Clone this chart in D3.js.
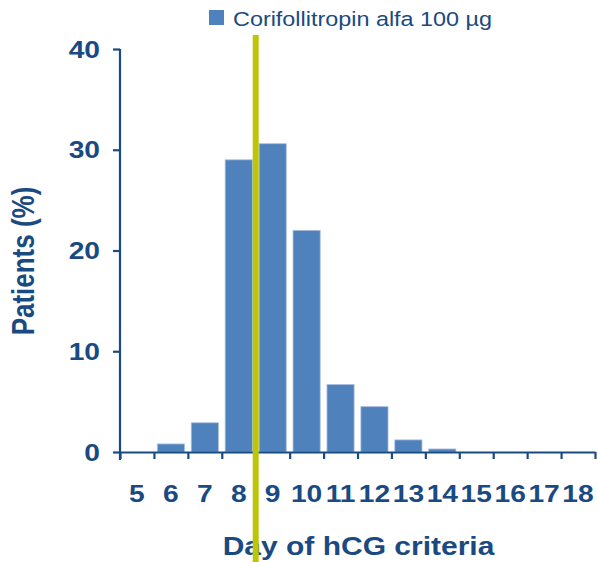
<!DOCTYPE html>
<html>
<head>
<meta charset="utf-8">
<script src="https://cdn.jsdelivr.net/npm/d3@7"></script>
<style>
  html, body { margin: 0; padding: 0; background: #fff; }
  svg { display: block; font-family: "Liberation Sans", Arial, sans-serif; }
</style>
</head>
<body>
<svg id="chart" width="598" height="562"></svg>
<script>
// Distribution of the day on which hCG criteria were reached
const days = ["5", "6", "7", "8", "9", "10", "11", "12", "13", "14", "15", "16", "17", "18"];
const patientsPct = [0, 0.8, 2.9, 29.0, 30.6, 22.0, 6.7, 4.5, 1.2, 0.3, 0, 0, 0, 0];
const yTicks = [0, 10, 20, 30, 40];
const seriesName = "Corifollitropin alfa 100 µg";
const markerDay = 8.5; // reference line between day 8 and day 9

const navy = "#1a4a82";
const barColor = "#4f81bd";
const lineColor = "#bdc50a";
const stretch = 1.2; // horizontal widening of the lettering

const svg = d3.select("#chart");
const plotLeft = 120, plotRight = 595, plotTop = 49, plotBottom = 452;

const x = d3.scaleBand().domain(days).range([plotLeft, plotRight]).paddingInner(0.2).paddingOuter(0.1);
const xDay = d3.scaleLinear().domain([+days[0] - 0.5, +days[days.length - 1] + 0.5]).range([plotLeft, plotRight]);
const y = d3.scaleLinear().domain([0, 40]).range([plotBottom, plotTop]);

function label(g, tx, ty, text, opts) {
  return g.append("text")
    .attr("transform", `translate(${tx},${ty}) scale(${stretch},1)` + (opts.rotate ? ` rotate(${opts.rotate})` : ""))
    .attr("text-anchor", opts.anchor || "middle")
    .attr("font-size", opts.size)
    .attr("font-weight", opts.weight || "bold")
    .attr("fill", opts.fill || navy)
    .text(text);
}

// bars
svg.append("g").selectAll("rect")
  .data(days.map((d, i) => ({ day: d, v: patientsPct[i] })))
  .join("rect")
  .attr("x", d => x(d.day))
  .attr("width", x.bandwidth())
  .attr("y", d => y(d.v))
  .attr("height", d => plotBottom - y(d.v))
  .attr("fill", barColor)
  .attr("stroke", d => d.v > 0 ? "#a9bfdc" : "none")
  .attr("stroke-width", 0.8);

// y axis
const yAxis = svg.append("g")
  .attr("transform", `translate(${plotLeft},0)`)
  .call(d3.axisLeft(y).tickValues(yTicks).tickSize(7).tickSizeOuter(0).tickFormat(""));
yAxis.selectAll("path, line").attr("stroke", navy).attr("stroke-width", 2.2);
yAxis.select(".domain").attr("d", `M0,${plotTop}V${plotBottom + 8}`);

// x axis with ticks on the day boundaries
const boundaries = d3.range(days.length + 1).map(i => +days[0] - 0.5 + i);
const xAxis = svg.append("g")
  .attr("transform", `translate(0,${plotBottom})`)
  .call(d3.axisBottom(xDay).tickValues(boundaries).tickSize(7).tickSizeOuter(0).tickFormat(""));
xAxis.selectAll("path, line").attr("stroke", navy).attr("stroke-width", 2.2);

// tick labels
const labels = svg.append("g");
yTicks.forEach(t => label(labels, 100, y(t) + 8.5, String(t), { size: 23.5, anchor: "end" }));
days.forEach(d => label(labels, x(d) + x.bandwidth() / 2, 501.5, d, { size: 23.5 }));

// axis titles
label(labels, (plotLeft + plotRight) / 2 + 1, 555, "Day of hCG criteria", { size: 25 });
label(labels, 34, 261, "Patients (%)", { size: 26, rotate: -90 });

// legend
svg.append("rect").attr("x", 209).attr("y", 10).attr("width", 15).attr("height", 15).attr("fill", barColor);
label(svg, 233, 25.5, seriesName, { size: 19.5, anchor: "start", weight: "normal", fill: "#1b4a80" });

// reference line
svg.append("line")
  .attr("x1", xDay(markerDay)).attr("x2", xDay(markerDay))
  .attr("y1", 35).attr("y2", 562)
  .attr("stroke", lineColor).attr("stroke-width", 6);
</script>
</body>
</html>
